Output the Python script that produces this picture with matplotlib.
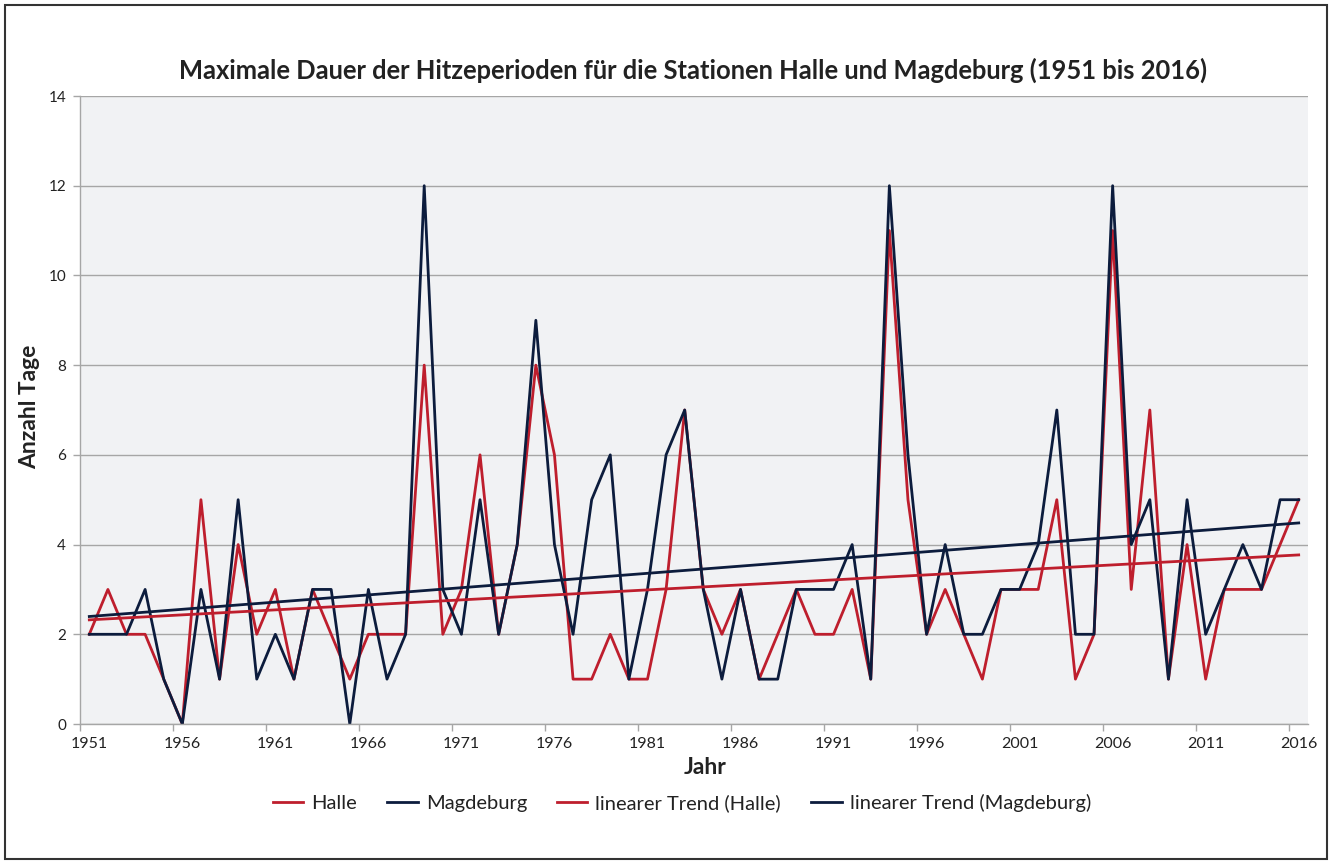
import matplotlib
matplotlib.use('Agg')
import matplotlib.pyplot as plt
from matplotlib.ticker import FixedLocator
import numpy as np

years = list(range(1951, 2017))

halle = [2, 3, 2, 2, 1, 0, 5, 1, 4, 2,
         3, 1, 3, 2, 1, 2, 2, 2, 8, 2,
         3, 6, 2, 4, 8, 6, 1, 1, 2, 1,
         1, 3, 7, 3, 2, 3, 1, 2, 3, 2,
         2, 3, 1, 11, 5, 2, 3, 2, 1, 3,
         3, 3, 5, 1, 2, 11, 3, 7, 1, 4,
         1, 3, 3, 3, 4, 5]

magdeburg = [2, 2, 2, 3, 1, 0, 3, 1, 5, 1,
             2, 1, 3, 3, 0, 3, 1, 2, 12, 3,
             2, 5, 2, 4, 9, 4, 2, 5, 6, 1,
             3, 6, 7, 3, 1, 3, 1, 1, 3, 3,
             3, 4, 1, 12, 6, 2, 4, 2, 2, 3,
             3, 4, 7, 2, 2, 12, 4, 5, 1, 5,
             2, 3, 4, 3, 5, 5]

series_names = ['Halle', 'Magdeburg', 'linearer Trend (Halle)', 'linearer Trend (Magdeburg)']
label_years = list(range(1951, 2017, 5))

red = '#BE1E2D'
navy = '#0C1C3D'

plt.rcParams['font.family'] = ['Lato', 'DejaVu Sans']

fig = plt.figure(figsize=(13.3, 8.63), dpi=100)
ax = fig.add_axes([80 / 1330, 1 - 724 / 863, 1228 / 1330, 628 / 863])
ax.set_facecolor('#F1F2F4')

x = np.array(years)
trend_h = np.polyval(np.polyfit(x, halle, 1), x)
trend_m = np.polyval(np.polyfit(x, magdeburg, 1), x)

lw = 2.0
ax.plot(x, halle, color=red, lw=lw, label=series_names[0])
ax.plot(x, magdeburg, color=navy, lw=lw, label=series_names[1])
ax.plot(x, trend_h, color=red, lw=lw, label=series_names[2])
ax.plot(x, trend_m, color=navy, lw=lw, label=series_names[3])

ax.set_xlim(1950.5, 2016.5)
ax.set_ylim(0, 14)
ax.set_yticks(range(0, 15, 2))
ax.grid(axis='y', color='#A6A6A6', lw=1.0)
ax.set_axisbelow(True)

# labels on the years, tick marks between categories
ax.xaxis.set_major_locator(FixedLocator(label_years))
ax.set_xticklabels([str(y) for y in label_years])
ax.xaxis.set_minor_locator(FixedLocator([1950.5 + 5 * k for k in range(14)]))
ax.tick_params(axis='x', which='major', length=0, pad=9, labelsize=11.5, colors='#222222')
ax.tick_params(axis='x', which='minor', length=5, width=1.0, color='#A6A6A6')
ax.tick_params(axis='y', length=5, width=1.0, color='#A6A6A6', labelsize=11, labelcolor='#222222', pad=5)

for s in ['top', 'right']:
    ax.spines[s].set_visible(False)
for s in ['left', 'bottom']:
    ax.spines[s].set_color('#A6A6A6')
    ax.spines[s].set_linewidth(1.0)

ax.set_xlabel('Jahr', fontsize=16.5, fontweight='bold', va='center', color='#222222')
ax.xaxis.set_label_coords((705 - 80) / 1228, (724 - 767) / 628)
ax.set_ylabel('Anzahl Tage', fontsize=16.5, fontweight='bold', va='center', color='#222222')
ax.yaxis.set_label_coords((30 - 80) / 1228, (724 - 407) / 628)

fig.suptitle('Maximale Dauer der Hitzeperioden für die Stationen Halle und Magdeburg (1951 bis 2016)',
             x=693.5 / 1330, y=1 - 70 / 863, va='center', fontsize=18.4, fontweight='bold', color='#222222')

leg = fig.legend(loc='center', bbox_to_anchor=(682 / 1330, 1 - 803 / 863), ncol=4, frameon=False,
                 fontsize=14.5, handlelength=1.5, columnspacing=1.5, handletextpad=0.4)
for t in leg.get_texts():
    t.set_color('#222222')

# outer frame
fig.patches.append(plt.Rectangle((5 / 1330, 4 / 863), 1322 / 1330, 854 / 863, transform=fig.transFigure,
                                 fill=False, edgecolor='#333333', lw=1.5))

plt.savefig('out.png', dpi=100)
